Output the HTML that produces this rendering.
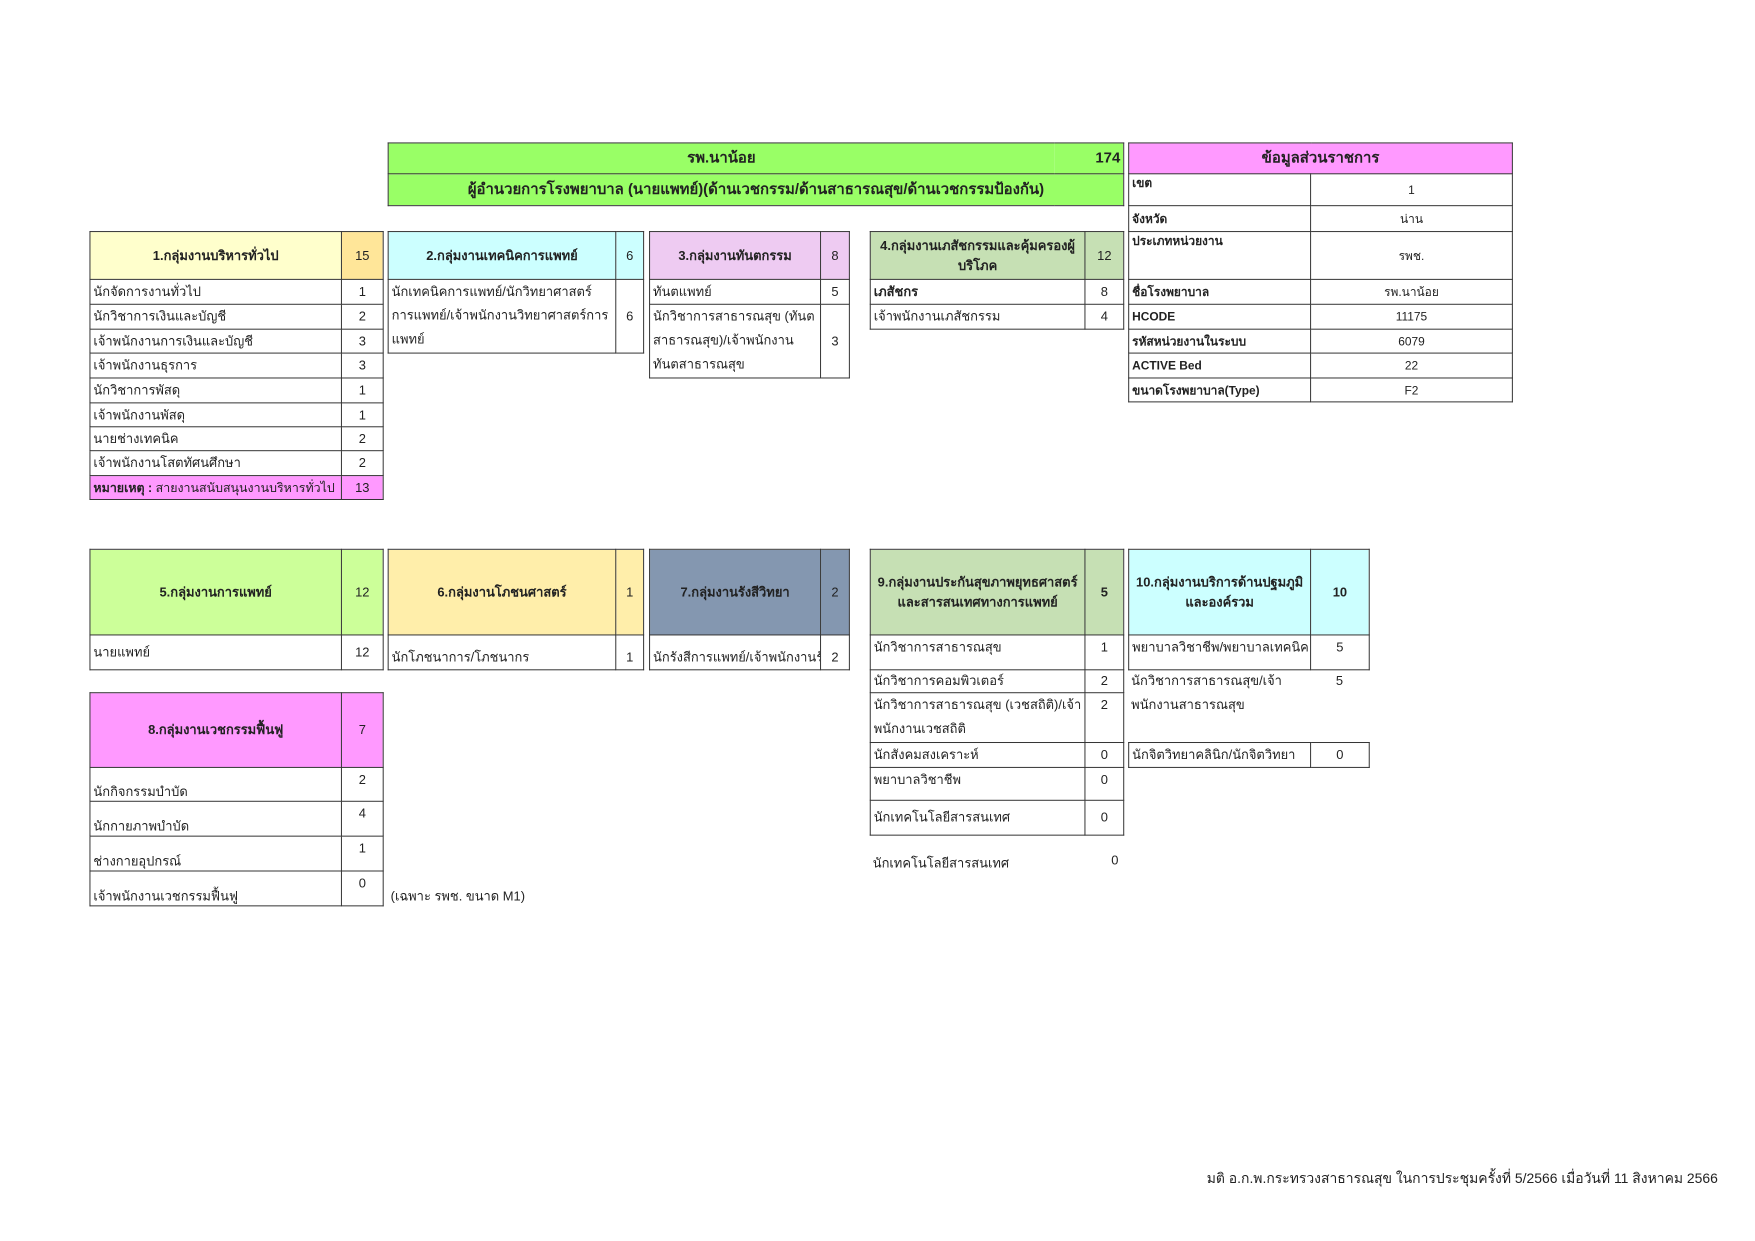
<!DOCTYPE html>
<html><head><meta charset="utf-8"><style>
body{margin:0;width:1755px;height:1241px;background:#fff;position:relative;overflow:hidden;font-family:"Liberation Sans","Noto Sans CJK SC","WenQuanYi Zen Hei",sans-serif;color:#222}
#w{position:absolute;left:0;top:0;width:1755px;height:1241px;transform:scale(0.994,0.996);transform-origin:0 0}
table{position:absolute;border-collapse:collapse;table-layout:fixed;font-size:13px}
td{border:1px solid #333;padding:0 3px;overflow:hidden;white-space:nowrap;line-height:18px}
td.n{text-align:center}
td.h{font-weight:bold;text-align:center;white-space:normal;line-height:20px}
td.w{white-space:normal;line-height:24px;vertical-align:top}
.t{position:absolute;font-size:13px;white-space:nowrap}
</style></head><body><div id="w">

<table style="left:390px;top:143px;width:740px">
<col style="width:670px"><col style="width:70px">
<tr style="height:31px;background:#99ff66"><td class="h" style="border-right:none;font-size:15px">รพ.นาน้อย</td><td style="border-left:none;text-align:right;font-weight:bold;font-size:15px">174</td></tr>
<tr style="height:32px;background:#99ff66"><td colspan="2" class="h" style="font-size:15px">ผู้อำนวยการโรงพยาบาล (นายแพทย์)(ด้านเวชกรรม/ด้านสาธารณสุข/ด้านเวชกรรมป้องกัน)</td></tr>
</table>

<table style="left:1135px;top:143px;width:386px;font-size:12px">
<col style="width:183px"><col style="width:203px">
<tr style="height:31px;background:#ff99ff"><td colspan="2" class="h" style="font-size:15px">ข้อมูลส่วนราชการ</td></tr>
<tr style="height:32px"><td style="vertical-align:top;font-weight:bold">เขต</td><td class="n">1</td></tr>
<tr style="height:26px"><td style="font-weight:bold">จังหวัด</td><td class="n">น่าน</td></tr>
<tr style="height:48px"><td style="vertical-align:top;font-weight:bold">ประเภทหน่วยงาน</td><td class="n">รพช.</td></tr>
<tr style="height:25px"><td style="font-weight:bold">ชื่อโรงพยาบาล</td><td class="n">รพ.นาน้อย</td></tr>
<tr style="height:25px"><td style="font-weight:bold">HCODE</td><td class="n">11175</td></tr>
<tr style="height:24px"><td style="font-weight:bold">รหัสหน่วยงานในระบบ</td><td class="n">6079</td></tr>
<tr style="height:25px"><td style="font-weight:bold">ACTIVE Bed</td><td class="n">22</td></tr>
<tr style="height:24px"><td style="font-weight:bold">ขนาดโรงพยาบาล(Type)</td><td class="n">F2</td></tr>
</table>

<table style="left:90px;top:232px;width:295px">
<col style="width:253px"><col style="width:42px">
<tr style="height:48px"><td class="h" style="background:#ffffcc">1.กลุ่มงานบริหารทั่วไป</td><td class="n" style="background:#ffe699">15</td></tr>
<tr style="height:25px"><td>นักจัดการงานทั่วไป</td><td class="n">1</td></tr>
<tr style="height:25px"><td>นักวิชาการเงินและบัญชี</td><td class="n">2</td></tr>
<tr style="height:24px"><td>เจ้าพนักงานการเงินและบัญชี</td><td class="n">3</td></tr>
<tr style="height:25px"><td>เจ้าพนักงานธุรการ</td><td class="n">3</td></tr>
<tr style="height:25px"><td>นักวิชาการพัสดุ</td><td class="n">1</td></tr>
<tr style="height:24px"><td>เจ้าพนักงานพัสดุ</td><td class="n">1</td></tr>
<tr style="height:24px"><td>นายช่างเทคนิค</td><td class="n">2</td></tr>
<tr style="height:25px"><td>เจ้าพนักงานโสตทัศนศึกษา</td><td class="n">2</td></tr>
<tr style="height:24px;background:#ff99ff"><td style="font-size:12.5px"><b>หมายเหตุ :</b> สายงานสนับสนุนงานบริหารทั่วไป</td><td class="n">13</td></tr>
</table>

<table style="left:390px;top:232px;width:257px">
<col style="width:229px"><col style="width:28px">
<tr style="height:48px;background:#ccffff"><td class="h">2.กลุ่มงานเทคนิคการแพทย์</td><td class="n">6</td></tr>
<tr style="height:74px"><td class="w">นักเทคนิคการแพทย์/นักวิทยาศาสตร์การแพทย์/เจ้าพนักงานวิทยาศาสตร์การแพทย์</td><td class="n">6</td></tr>
</table>

<table style="left:653px;top:232px;width:201px">
<col style="width:172px"><col style="width:29px">
<tr style="height:48px;background:#eecbf2"><td class="h">3.กลุ่มงานทันตกรรม</td><td class="n">8</td></tr>
<tr style="height:25px"><td>ทันตแพทย์</td><td class="n">5</td></tr>
<tr style="height:74px"><td class="w">นักวิชาการสาธารณสุข (ทันตสาธารณสุข)/เจ้าพนักงานทันตสาธารณสุข</td><td class="n">3</td></tr>
</table>

<table style="left:875px;top:232px;width:255px">
<col style="width:216px"><col style="width:39px">
<tr style="height:48px;background:#c6e0b4"><td class="h">4.กลุ่มงานเภสัชกรรมและคุ้มครองผู้บริโภค</td><td class="n">12</td></tr>
<tr style="height:25px"><td style="font-weight:bold">เภสัชกร</td><td class="n">8</td></tr>
<tr style="height:25px"><td>เจ้าพนักงานเภสัชกรรม</td><td class="n">4</td></tr>
</table>

<table style="left:90px;top:551px;width:295px">
<col style="width:253px"><col style="width:42px">
<tr style="height:86px;background:#ccff99"><td class="h">5.กลุ่มงานการแพทย์</td><td class="n">12</td></tr>
<tr style="height:35px"><td>นายแพทย์</td><td class="n">12</td></tr>
</table>

<table style="left:390px;top:551px;width:257px">
<col style="width:229px"><col style="width:28px">
<tr style="height:86px;background:#ffeeaa"><td class="h">6.กลุ่มงานโภชนศาสตร์</td><td class="n">1</td></tr>
<tr style="height:35px"><td style="vertical-align:bottom;padding-bottom:3px">นักโภชนาการ/โภชนากร</td><td class="n" style="vertical-align:bottom;padding-bottom:3px">1</td></tr>
</table>

<table style="left:653px;top:551px;width:201px">
<col style="width:172px"><col style="width:29px">
<tr style="height:86px;background:#8497b0"><td class="h">7.กลุ่มงานรังสีวิทยา</td><td class="n">2</td></tr>
<tr style="height:35px"><td style="vertical-align:bottom;padding-bottom:3px">นักรังสีการแพทย์/เจ้าพนักงานรังสี</td><td class="n" style="vertical-align:bottom;padding-bottom:3px">2</td></tr>
</table>

<table style="left:90px;top:695px;width:295px">
<col style="width:253px"><col style="width:42px">
<tr style="height:75px;background:#ff99ff"><td class="h">8.กลุ่มงานเวชกรรมฟื้นฟู</td><td class="n">7</td></tr>
<tr style="height:34px"><td style="vertical-align:bottom">นักกิจกรรมบำบัด</td><td class="n" style="vertical-align:top;padding-top:3px">2</td></tr>
<tr style="height:35px"><td style="vertical-align:bottom">นักกายภาพบำบัด</td><td class="n" style="vertical-align:top;padding-top:3px">4</td></tr>
<tr style="height:35px"><td style="vertical-align:bottom">ช่างกายอุปกรณ์</td><td class="n" style="vertical-align:top;padding-top:3px">1</td></tr>
<tr style="height:35px"><td style="vertical-align:bottom">เจ้าพนักงานเวชกรรมฟื้นฟู</td><td class="n" style="vertical-align:top;padding-top:3px">0</td></tr>
</table>
<div class="t" style="left:393px;top:889px">(เฉพาะ รพช. ขนาด M1)</div>

<table style="left:875px;top:551px;width:255px">
<col style="width:216px"><col style="width:39px">
<tr style="height:86px;background:#c6e0b4"><td class="h">9.กลุ่มงานประกันสุขภาพยุทธศาสตร์และสารสนเทศทางการแพทย์</td><td class="n" style="font-weight:bold">5</td></tr>
<tr style="height:35px"><td style="vertical-align:top;padding-top:3px">นักวิชาการสาธารณสุข</td><td class="n" style="vertical-align:top;padding-top:3px">1</td></tr>
<tr style="height:23px"><td>นักวิชาการคอมพิวเตอร์</td><td class="n">2</td></tr>
<tr style="height:50px"><td class="w">นักวิชาการสาธารณสุข (เวชสถิติ)/เจ้าพนักงานเวชสถิติ</td><td class="n" style="vertical-align:top;padding-top:3px">2</td></tr>
<tr style="height:25px"><td>นักสังคมสงเคราะห์</td><td class="n">0</td></tr>
<tr style="height:33px"><td style="vertical-align:top;padding-top:3px">พยาบาลวิชาชีพ</td><td class="n" style="vertical-align:top;padding-top:3px">0</td></tr>
<tr style="height:35px"><td>นักเทคโนโลยีสารสนเทศ</td><td class="n">0</td></tr>
</table>
<div class="t" style="left:878px;top:856px">นักเทคโนโลยีสารสนเทศ</div>
<div class="t" style="left:1118px;top:856px">0</div>

<table style="left:1135px;top:551px;width:242px">
<col style="width:183px"><col style="width:59px">
<tr style="height:86px;background:#ccffff"><td class="h">10.กลุ่มงานบริการด้านปฐมภูมิและองค์รวม</td><td class="n" style="font-weight:bold">10</td></tr>
<tr style="height:35px"><td style="vertical-align:top;padding-top:3px">พยาบาลวิชาชีพ/พยาบาลเทคนิค</td><td class="n" style="vertical-align:top;padding-top:3px">5</td></tr>
</table>
<div class="t" style="left:1138px;top:672px;line-height:24px">นักวิชาการสาธารณสุข/เจ้า<br>พนักงานสาธารณสุข</div>
<div class="t" style="left:1344px;top:672px;line-height:24px">5</div>
<table style="left:1135px;top:745px;width:242px">
<col style="width:183px"><col style="width:59px">
<tr style="height:25px"><td>นักจิตวิทยาคลินิก/นักจิตวิทยา</td><td class="n">0</td></tr>
</table>

<div class="t" style="left:1214px;top:1173px;font-size:14px">มติ อ.ก.พ.กระทรวงสาธารณสุข ในการประชุมครั้งที่ 5/2566 เมื่อวันที่ 11 สิงหาคม 2566</div>
</div></body></html>
